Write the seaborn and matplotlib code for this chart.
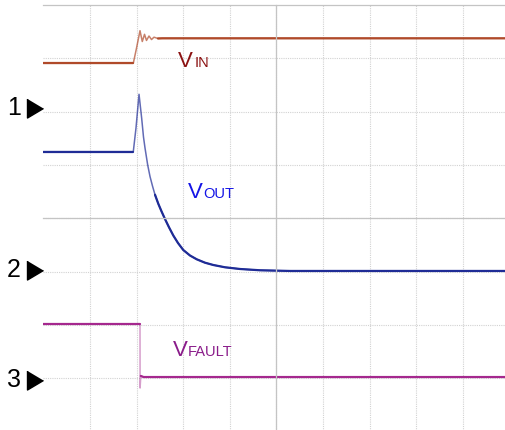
import matplotlib
matplotlib.use('Agg')
import matplotlib.pyplot as plt
from matplotlib.ticker import FixedLocator, MultipleLocator
from matplotlib.transforms import blended_transform_factory
import pandas as pd
import seaborn as sns

# --- scope capture in graticule divisions ---
# x: time (10 div across), y: screen position (8 div high, 0 = bottom)
vin_t = [0.0, 1.929, 1.998, 2.073, 2.122, 2.170, 2.212, 2.266, 2.320, 2.373, 2.459, 2.55, 10.0]
vin_v = [6.906, 6.906, 7.19, 7.518, 7.315, 7.450, 7.335, 7.418, 7.352, 7.396, 7.372, 7.375, 7.375]

vout_t = [0.0, 1.929, 1.987, 2.052, 2.109, 2.148, 2.180, 2.238, 2.288, 2.341, 2.395,
          2.466, 2.534, 2.609, 2.695, 2.788, 2.888, 3.002, 3.146, 3.290, 3.468,
          3.646, 3.897, 4.219, 4.648, 5.292, 10.0]
vout_v = [5.248, 5.248, 5.692, 6.325, 5.874, 5.523, 5.320, 4.998, 4.782, 4.604, 4.440,
          4.270, 4.130, 3.985, 3.830, 3.675, 3.535, 3.403, 3.300, 3.229, 3.165,
          3.122, 3.079, 3.047, 3.023, 3.010, 3.010]

fault_t = [0.0, 2.073, 2.075, 2.09, 2.15, 10.0]
fault_v = [2.015, 2.015, 0.814, 1.04, 1.02, 1.02]

channel_marks = ['1', '2', '3']
channel_levels = [6.07, 3.03, 0.97]

VIN_COLOR = '#b04a2a'
VOUT_COLOR = '#1f2c96'
FAULT_COLOR = '#a5288e'

sns.set_style('white')
plt.rcParams['font.family'] = ['Liberation Sans', 'DejaVu Sans']

fig = plt.figure(figsize=(5.06, 4.30), dpi=100)
ax = fig.add_axes([43.4 / 506, -1.4 / 430, 466 / 506, 426.4 / 430])
ax.set_xlim(0, 10)
ax.set_ylim(0, 8)


def draw_trace(t, v, color, slow_parts, fast_alpha=0.7):
    df = pd.DataFrame({'t': t, 'v': v})
    # fast edges look fainter on the scope: whole trace thin first, slow parts on top
    sns.lineplot(data=df, x='t', y='v', color=color, alpha=fast_alpha, linewidth=1.1,
                 sort=False, estimator=None, ax=ax)
    for a, b in slow_parts:
        sns.lineplot(data=df.iloc[a:b], x='t', y='v', color=color, linewidth=1.6,
                     sort=False, estimator=None, ax=ax)


draw_trace(vin_t, vin_v, VIN_COLOR, [(0, 2), (10, len(vin_t))])
draw_trace(vout_t, vout_v, VOUT_COLOR, [(0, 2), (10, len(vout_t))])
draw_trace(fault_t, fault_v, FAULT_COLOR, [(0, 2), (3, len(fault_t))], fast_alpha=0.45)

# --- graticule ---
ax.xaxis.set_major_locator(FixedLocator(range(1, 10)))
ax.yaxis.set_major_locator(FixedLocator(range(1, 8)))
ax.xaxis.set_minor_locator(MultipleLocator(0.2))
ax.yaxis.set_minor_locator(MultipleLocator(0.2))
ax.grid(True, which='major', color='#d2d2d2', linestyle=(0, (1, 1)), linewidth=0.8)
ax.set_axisbelow(True)
ax.tick_params(which='both', direction='inout', length=5, width=0.7, color='#c4c4c4',
               labelbottom=False, labelleft=False)
ax.spines['left'].set_position(('data', 5))
ax.spines['bottom'].set_position(('data', 4))
for side in ['left', 'bottom', 'top']:
    ax.spines[side].set_color('#c4c4c4')
    ax.spines[side].set_linewidth(0.9)
ax.spines['right'].set_visible(False)
ax.set_xlabel('')
ax.set_ylabel('')

# --- trace labels (subscript sits on the baseline, like the scope text) ---
ax.text(2.895, 6.842, 'V', color='#8b1212', fontsize=16, va='baseline')
ax.text(3.245, 6.842, 'IN', color='#8b1212', fontsize=10.5, va='baseline')
ax.text(3.109, 4.379, 'V', color='#1414e6', fontsize=16, va='baseline')
ax.text(3.430, 4.379, 'OUT', color='#1414e6', fontsize=10.5, va='baseline')
ax.text(2.781, 1.420, 'V', color='#8a1c8a', fontsize=16, va='baseline')
ax.text(3.100, 1.420, 'FAULT', color='#8a1c8a', fontsize=10.5, va='baseline')

# --- channel ground markers left of the screen ---
trans = blended_transform_factory(fig.transFigure, ax.transData)
tri = [(-0.42, 0.5), (-0.42, -0.5), (0.42, 0.0)]
for mark, lvl in zip(channel_marks, channel_levels):
    ax.text(21 / 506, lvl, mark, transform=trans, fontsize=18, ha='right', va='center',
            color='black')
    ax.plot([34.7 / 506], [lvl], transform=trans, marker=tri, markersize=13.7,
            color='black', clip_on=False, linestyle='none')

plt.savefig('out.png', dpi=100)
